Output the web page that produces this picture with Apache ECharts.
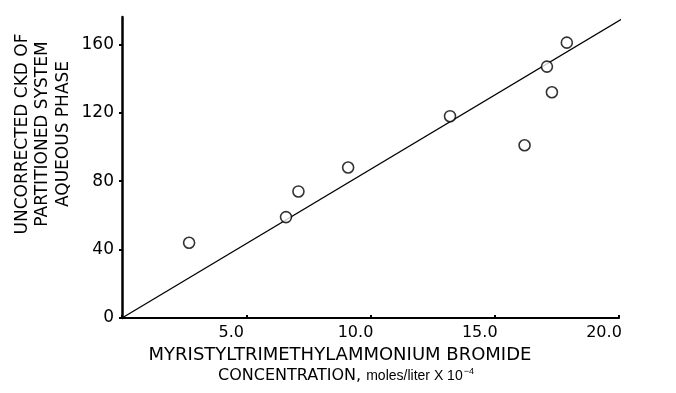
<!DOCTYPE html>
<html>
<head>
<meta charset="utf-8">
<script src="https://cdn.jsdelivr.net/npm/echarts@6/dist/echarts.min.js"></script>
<style>
html, body { margin: 0; padding: 0; background: #fff; }
#main { width: 676px; height: 393px; }
</style>
</head>
<body>
<div id="main"></div>
<script>
var myChart = echarts.init(document.getElementById('main'));

// measured points (concentration x 10^-4, uncorrected CKD)
var concX = [2.7, 6.6, 7.1, 9.1, 13.2, 16.2, 17.1, 17.3, 17.9];
var ckdY = [44, 59, 74, 88, 118, 101, 147, 132, 161];
// fitted line through origin
var fitLine = [[0, 0], [20.25, 176]];
var xTicks = [5, 10, 15, 20];
var yTicks = [0, 40, 80, 120, 160];

var points = concX.map(function (x, i) { return [x, ckdY[i]]; });
var font = '"DejaVu Sans", sans-serif';
var narrow = '"Liberation Sans", Arial, sans-serif';

option = {
    backgroundColor: '#fff',
    animation: false,
    grid: { left: 122, right: 57, top: 17, bottom: 75 },
    xAxis: {
        type: 'value',
        min: 0,
        max: 20,
        interval: 5,
        axisLine: { lineStyle: { color: '#000', width: 2 } },
        axisTick: { show: true, length: 3, inside: true, lineStyle: { color: '#000', width: 2 } },
        splitLine: { show: false },
        axisLabel: {
            color: '#000',
            fontFamily: font,
            fontSize: 16,
            margin: 7,
            padding: [0, 30, 0, 0],
            formatter: function (v) { return xTicks.indexOf(v) >= 0 ? v.toFixed(1) : ''; }
        }
    },
    yAxis: {
        type: 'value',
        min: 0,
        max: 176,
        interval: 40,
        axisLine: { lineStyle: { color: '#000', width: 2.5 } },
        axisTick: { show: true, length: 3, lineStyle: { color: '#000', width: 2 } },
        splitLine: { show: false },
        axisLabel: {
            color: '#000',
            fontFamily: font,
            fontSize: 17,
            margin: 8,
            showMaxLabel: false,
            formatter: function (v) { return yTicks.indexOf(v) >= 0 ? String(v) : ''; }
        }
    },
    graphic: [
        {
            type: 'text',
            position: [340, 355],
            style: {
                text: 'MYRISTYLTRIMETHYLAMMONIUM BROMIDE',
                fill: '#000',
                font: '18px ' + font,
                align: 'center',
                verticalAlign: 'middle'
            }
        },
        {
            type: 'text',
            position: [346, 376],
            style: {
                text: '{a|CONCENTRATION, }{b|moles/liter X 10}{s|−4}',
                fill: '#000',
                align: 'center',
                verticalAlign: 'middle',
                rich: {
                    a: { fontSize: 16, fontFamily: font, fill: '#000' },
                    b: { fontSize: 14, fontFamily: narrow, fill: '#000' },
                    s: { fontSize: 9, fontFamily: narrow, fill: '#000', verticalAlign: 'top', padding: [0, 0, 8, 1] }
                }
            }
        },
        {
            type: 'text',
            rotation: Math.PI / 2,
            position: [43, 134],
            style: {
                text: 'UNCORRECTED CKD OF\nPARTITIONED SYSTEM\nAQUEOUS PHASE',
                fill: '#000',
                font: '17px ' + font,
                align: 'center',
                verticalAlign: 'middle',
                lineHeight: 20.5
            }
        }
    ],
    series: [
        {
            type: 'line',
            data: fitLine,
            symbol: 'none',
            clip: false,
            z: 2,
            lineStyle: { color: '#000', width: 1.3 }
        },
        {
            type: 'scatter',
            data: points,
            symbol: 'circle',
            symbolSize: 11,
            z: 3,
            itemStyle: { color: '#fff', borderColor: '#000', borderWidth: 1.6 }
        }
    ]
};
myChart.setOption(option);
</script>
</body>
</html>
